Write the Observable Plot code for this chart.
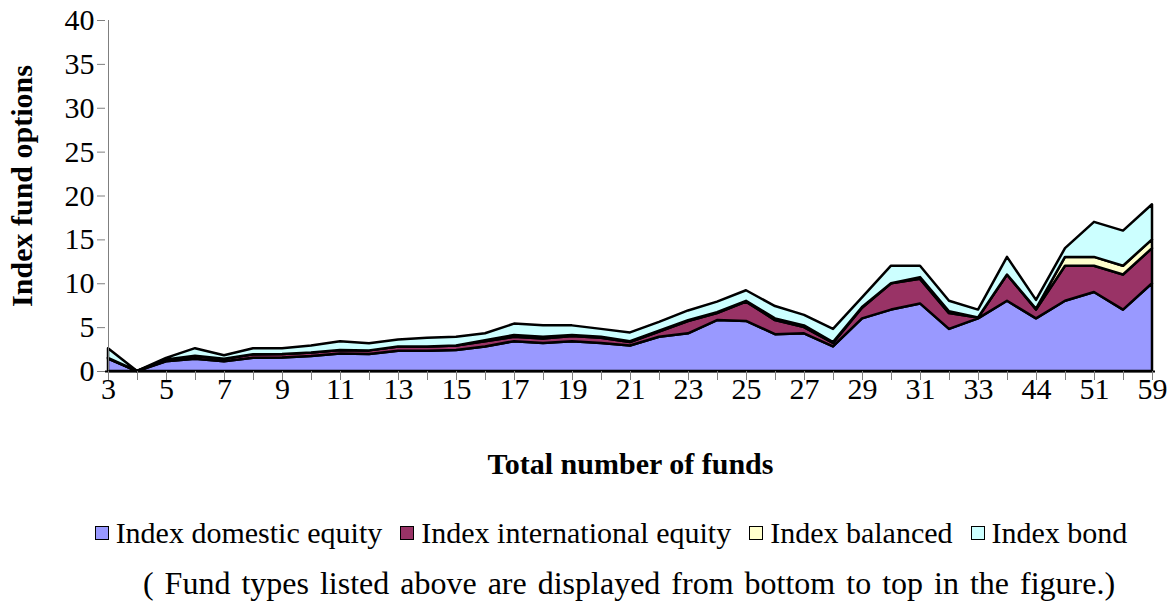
<!DOCTYPE html>
<html>
<head>
<meta charset="utf-8">
<script src="https://cdn.jsdelivr.net/npm/d3@7"></script>
<script src="https://cdn.jsdelivr.net/npm/@observablehq/plot@0.6"></script>
<style>
  body { margin: 0; background: #fff; font-family: "Liberation Serif", "Times New Roman", serif; color: #000; }
  #wrap { position: relative; width: 1176px; height: 603px; overflow: hidden; }
  .line { position: absolute; left: 0; width: 1176px; display: flex; justify-content: center; align-items: center;
          font-size: 30px; line-height: 36px; white-space: nowrap; }
  .item { display: flex; align-items: center; margin: 0 9px; }
  .sw { display: inline-block; width: 12px; height: 12px; border: 1.5px solid #000; margin-right: 7px; }
</style>
</head>
<body>
<div id="wrap"></div>
<script>
const categories = ["3","4","5","6","7","8","9","10","11","12","13","14","15","16","17","18","19","20","21","22",
  "23","24","25","26","27","28","29","30","31","32","33","34","44","47","51","54","59"];
const domestic      = [1.4,0,1.1,1.4,1.1,1.5,1.55,1.7,2.0,1.95,2.3,2.3,2.4,2.8,3.4,3.2,3.4,3.2,2.9,3.9,
  4.3,5.8,5.7,4.2,4.3,2.8,6.0,7.0,7.7,4.8,6.0,8.0,6.0,8.0,9.0,7.0,10.0];
const international = [0.1,0,0.2,0.3,0.3,0.4,0.4,0.4,0.4,0.4,0.5,0.5,0.5,0.6,0.5,0.5,0.6,0.6,0.4,0.6,
  1.4,0.8,2.2,1.6,0.7,0.4,1.2,3.0,2.8,1.8,0.1,3.0,1.0,4.0,3.0,4.0,4.0];
const balanced      = [0,0,0,0.05,0,0,0,0,0,0,0,0,0,0.1,0.2,0.2,0.1,0.1,0.1,0.1,
  0.1,0.1,0.1,0.2,0.2,0.1,0.1,0,0.2,0.2,0,0,0.1,1.0,1.0,1.0,1.0];
const bond          = [1.1,0,0.2,0.85,0.4,0.7,0.65,0.8,1.0,0.8,0.8,1.0,1.0,0.8,1.3,1.3,1.1,0.9,1.0,1.0,
  1.1,1.2,1.2,1.4,1.2,1.5,1.1,2.0,1.3,1.2,0.9,2.0,1.0,1.0,4.0,4.0,4.0];
const seriesNames  = ["Index domestic equity","Index international equity","Index balanced","Index bond"];
const seriesColors = ["#9999FF","#993366","#FFFFCC","#CCFFFF"];
const yTicks = [0,5,10,15,20,25,30,35,40];
const shownXLabels = ["3","5","7","9","11","13","15","17","19","21","23","25","27","29","31","33","44","51","59"];
const yTitle = "Index fund options";
const xTitle = "Total number of funds";
const note = "( Fund types listed above are displayed from bottom to top in the figure.)";

const seriesValues = [domestic, international, balanced, bond];
const data = [];
seriesNames.forEach((s, k) => categories.forEach((c, i) => data.push({cat: c, series: s, value: seriesValues[k][i]})));
const shown = new Set(shownXLabels);

const plot = Plot.plot({
  width: 1176, height: 490,
  marginLeft: 105, marginRight: 21, marginTop: 20, marginBottom: 119,
  style: {fontFamily: "'Liberation Serif', 'Times New Roman', serif", fontSize: "30px", color: "#000", background: "#fff"},
  x: {type: "point", domain: categories, padding: 0, label: null},
  y: {domain: [0, 40], label: null},
  color: {domain: seriesNames, range: seriesColors},
  marks: [
    Plot.areaY(data, {x: "cat", y: "value", z: "series", fill: "series", stroke: "#000", strokeWidth: 2.5, strokeLinejoin: "round"}),
    Plot.ruleX([categories[0]], {stroke: "#7f7f7f", strokeWidth: 1}),
    Plot.ruleY([0], {stroke: "#000", strokeWidth: 2}),
    Plot.axisY({ticks: yTicks, tickSize: 8, tickPadding: 3, stroke: "#7f7f7f", strokeOpacity: 1, fill: "#000", fontSize: 30, label: null}),
    Plot.axisX({tickSize: 9, tickPadding: -3, stroke: "#7f7f7f", strokeOpacity: 1, fill: "#000", fontSize: 30, label: null,
      tickFormat: d => shown.has(d) ? d : ""}),
    Plot.text([yTitle], {frameAnchor: "left", textAnchor: "middle", dx: -83, dy: -10, rotate: -90, fontWeight: "bold", fontSize: 30, fill: "#000"}),
    Plot.text([xTitle], {frameAnchor: "bottom", textAnchor: "middle", dy: 102, fontWeight: "bold", fontSize: 30, fill: "#000"})
  ]
});

const wrap = document.getElementById("wrap");
wrap.appendChild(plot);

// legend
const legend = document.createElement("div");
legend.className = "line";
legend.style.top = "515px";
legend.style.transform = "translateX(23px)";
seriesNames.forEach((s, k) => {
  const it = document.createElement("span"); it.className = "item";
  const sw = document.createElement("span"); sw.className = "sw"; sw.style.background = seriesColors[k];
  const tx = document.createElement("span"); tx.textContent = s;
  it.appendChild(sw); it.appendChild(tx); legend.appendChild(it);
});
wrap.appendChild(legend);

const cap = document.createElement("div");
cap.className = "line";
cap.style.top = "565px";
cap.style.fontSize = "32px";
cap.style.wordSpacing = "3px";
cap.style.transform = "translateX(41px)";
cap.textContent = note;
wrap.appendChild(cap);
</script>
</body>
</html>
